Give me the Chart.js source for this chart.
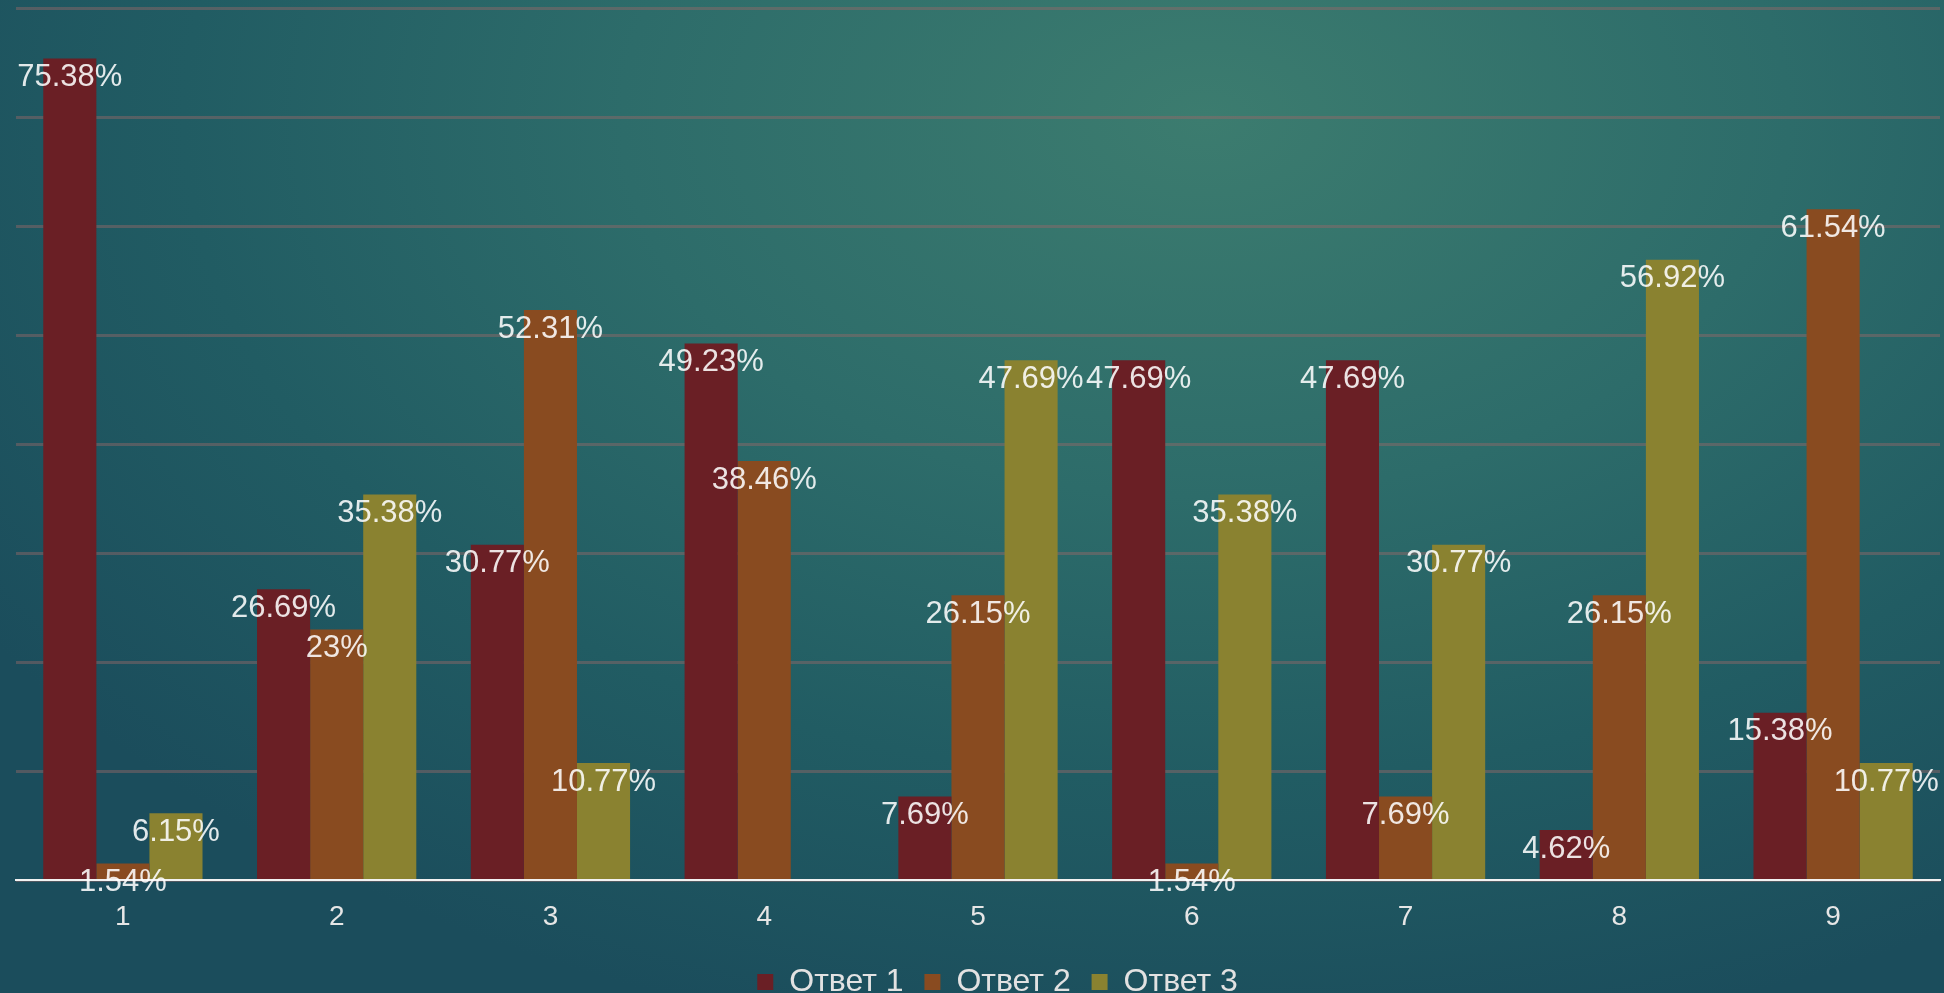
<!DOCTYPE html>
<html>
<head>
<meta charset="utf-8">
<script src="https://cdn.jsdelivr.net/npm/chart.js@4.4.1/dist/chart.umd.min.js"></script>
<style>
    html, body { margin: 0; padding: 0; }
    body {
        width: 1944px; height: 993px; overflow: hidden;
        background: radial-gradient(ellipse 75% 95% at 62% 12%, #3c7c6f 0%, #2d6c6a 40%, #215c63 70%, #1b4d5c 100%);
    }
    #wrap { position: relative; width: 1944px; height: 993px; }
</style>
</head>
<body>
<div id="wrap"><canvas id="respuestasChart"></canvas></div>
<script>
// Datos del gráfico
const categorias = ['1', '2', '3', '4', '5', '6', '7', '8', '9'];
const respuesta1 = [75.38, 26.69, 30.77, 49.23, 7.69, 47.69, 47.69, 4.62, 15.38];
const respuesta2 = [1.54, 23, 52.31, 38.46, 26.15, 1.54, 7.69, 26.15, 61.54];
const respuesta3 = [6.15, 35.38, 10.77, 0, 47.69, 35.38, 30.77, 56.92, 10.77];
const nombres = ['Ответ 1', 'Ответ 2', 'Ответ 3'];

document.addEventListener('DOMContentLoaded', function () {
    const fuente = 'Arial, "Liberation Sans", sans-serif';

    // Etiquetas de porcentaje sobre cada barra
    const etiquetas = {
        id: 'etiquetas',
        afterDatasetsDraw(chart) {
            const ctx = chart.ctx;
            ctx.save();
            ctx.font = '31px ' + fuente;
            ctx.textAlign = 'center';
            ctx.textBaseline = 'middle';
            ctx.fillStyle = 'rgba(255,255,255,0.87)';
            chart.data.datasets.forEach(function (ds, i) {
                chart.getDatasetMeta(i).data.forEach(function (bar, j) {
                    const v = ds.data[j];
                    if (!v) return;
                    ctx.fillText(v + '%', bar.x, bar.y + 19);
                });
            });
            ctx.restore();
        }
    };

    // La leyenda del original está un poco desplazada a la derecha
    const moverLeyenda = {
        id: 'moverLeyenda',
        afterLayout(chart) {
            chart.legend.left += 24;
            chart.legend.right += 24;
        }
    };

    new Chart(document.getElementById('respuestasChart'), {
        type: 'bar',
        data: {
            labels: categorias,
            datasets: [
                { label: nombres[0], data: respuesta1, backgroundColor: '#6a1f25' },
                { label: nombres[1], data: respuesta2, backgroundColor: '#894b20' },
                { label: nombres[2], data: respuesta3, backgroundColor: '#8a8230' }
            ]
        },
        options: {
            responsive: true,
            maintainAspectRatio: false,
            animation: false,
            devicePixelRatio: 1,
            layout: { padding: { left: 16, right: 4, top: 8, bottom: -15 } },
            datasets: { bar: { barPercentage: 1, categoryPercentage: 0.745 } },
            scales: {
                x: {
                    grid: { display: false, drawTicks: false },
                    border: { color: '#f2f2f2', width: 2 },
                    ticks: { color: '#e6e6e6', font: { family: fuente, size: 28 }, padding: 20 }
                },
                y: {
                    min: 0, max: 80,
                    z: 1,
                    ticks: { display: false, stepSize: 10 },
                    border: { display: false },
                    grid: { color: 'rgba(150,105,105,0.45)', lineWidth: 3, drawTicks: false }
                }
            },
            plugins: {
                legend: {
                    position: 'bottom',
                    labels: {
                        color: '#e2e2e2',
                        font: { family: fuente, size: 32 },
                        boxWidth: 16, boxHeight: 16,
                        padding: 12,
                        generateLabels: function (chart) {
                            // un poco más de aire entre elementos de la leyenda
                            return Chart.defaults.plugins.legend.labels.generateLabels(chart)
                                .map(function (item) { item.text = item.text + ' '; return item; });
                        }
                    }
                },
                tooltip: { enabled: false }
            }
        },
        plugins: [etiquetas, moverLeyenda]
    });
});
</script>
</body>
</html>
